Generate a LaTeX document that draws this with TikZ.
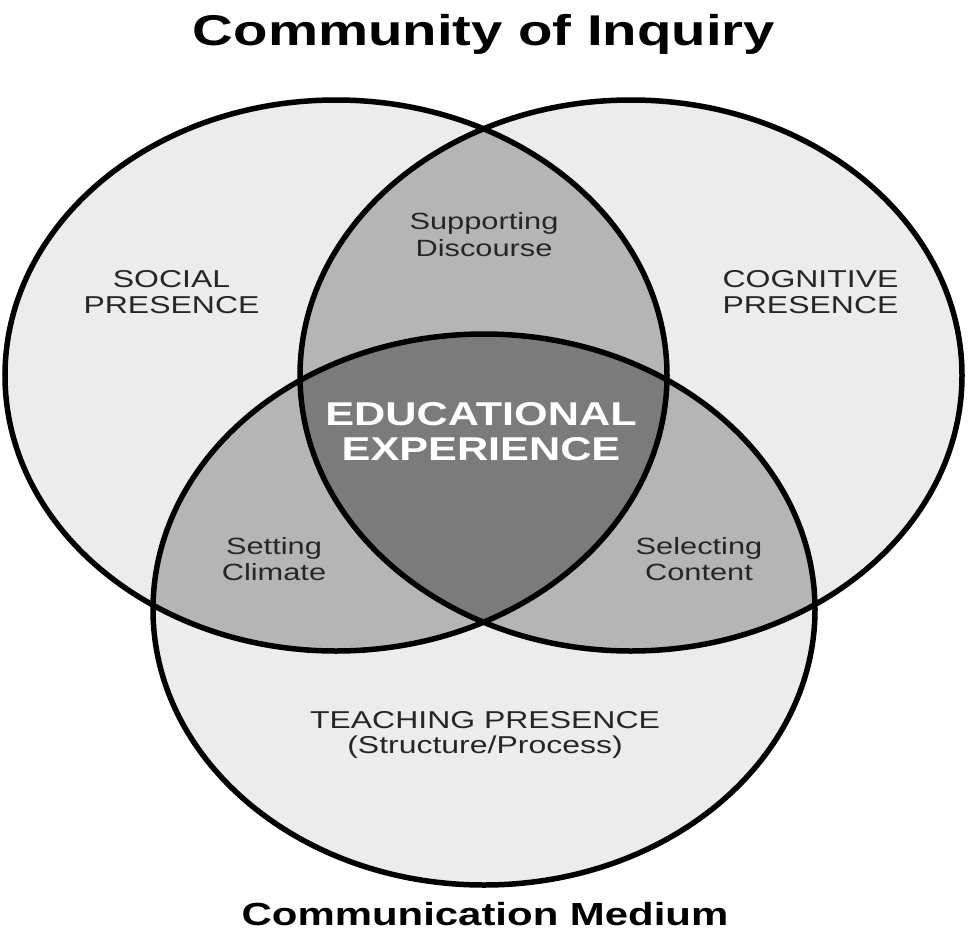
\documentclass[tikz,border=0pt]{standalone}
\usepackage{fontspec}
\setmainfont{Liberation Sans}
\newfontfamily\widefont[FakeStretch=1.31]{Liberation Sans}
\usetikzlibrary{shapes.geometric}
\definecolor{lightfill}{HTML}{ECECEC}
\definecolor{midfill}{HTML}{B5B5B5}
\definecolor{darkfill}{HTML}{7B7B7B}
\tikzset{
  venn/.style={line width=5.5pt, draw=black},
  lbl/.style={anchor=base, align=center, inner sep=0pt, text=black!85},
}
\begin{document}
\begin{tikzpicture}[x=1pt,y=-1pt]
\useasboundingbox (0,0) rectangle (970,940);
\fill[white] (0,0) rectangle (970,940);
\coordinate (cL) at (336,375.5);
\coordinate (cR) at (631,375.5);
\coordinate (cB) at (484,609.5);
\def\rx{331}\def\ry{275.5}
% base fills
\fill[lightfill] (cL) ellipse [x radius=\rx, y radius=\ry];
\fill[lightfill] (cR) ellipse [x radius=\rx, y radius=\ry];
\fill[lightfill] (cB) ellipse [x radius=\rx, y radius=\ry];
% pairwise
\begin{scope}
  \clip (cL) ellipse [x radius=\rx, y radius=\ry];
  \fill[midfill] (cR) ellipse [x radius=\rx, y radius=\ry];
  \fill[midfill] (cB) ellipse [x radius=\rx, y radius=\ry];
\end{scope}
\begin{scope}
  \clip (cR) ellipse [x radius=\rx, y radius=\ry];
  \fill[midfill] (cB) ellipse [x radius=\rx, y radius=\ry];
\end{scope}
% triple
\begin{scope}
  \clip (cL) ellipse [x radius=\rx, y radius=\ry];
  \clip (cR) ellipse [x radius=\rx, y radius=\ry];
  \fill[darkfill] (cB) ellipse [x radius=\rx, y radius=\ry];
\end{scope}
% outlines
\draw[venn] (cL) ellipse [x radius=\rx, y radius=\ry];
\draw[venn] (cR) ellipse [x radius=\rx, y radius=\ry];
\draw[venn] (cB) ellipse [x radius=\rx, y radius=\ry];
% labels (base anchor = baseline of last line)
\node[lbl, text=black, font={\widefont\bfseries\fontsize{43}{48}\selectfont}] (title) at (484,45) {Community of Inquiry};
\node[lbl, font={\widefont\fontsize{24.4}{26}\selectfont}] (social) at (171.5,313) {SOCIAL\\PRESENCE};
\node[lbl, font={\widefont\fontsize{24.4}{26}\selectfont}] (cognitive) at (810.5,313) {COGNITIVE\\PRESENCE};
\node[lbl, font={\widefont\fontsize{23.5}{27}\selectfont}] (support) at (484,256) {Supporting\\Discourse};
\node[lbl, text=white, font={\widefont\bfseries\fontsize{33}{35}\selectfont}] (edu) at (481,460) {EDUCATIONAL\\EXPERIENCE};
\node[lbl, font={\widefont\fontsize{23.5}{26}\selectfont}] (setting) at (274,580) {Setting\\Climate};
\node[lbl, font={\widefont\fontsize{23.5}{26}\selectfont}] (selecting) at (699,580) {Selecting\\Content};
\node[lbl, font={\widefont\fontsize{24.4}{25}\selectfont}] (teaching) at (485,753) {TEACHING PRESENCE\\(Structure/Process)};
\node[lbl, text=black, font={\widefont\bfseries\fontsize{32}{36}\selectfont}] (medium) at (485,925) {Communication Medium};
\end{tikzpicture}
\end{document}
